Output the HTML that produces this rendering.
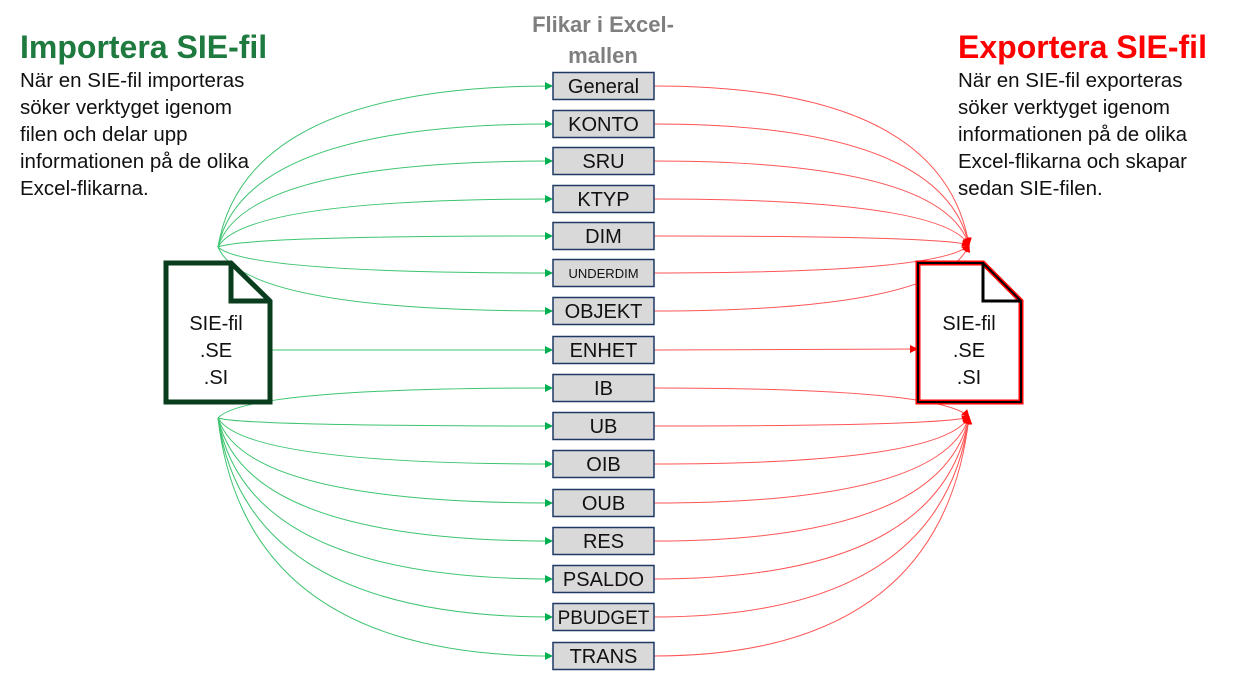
<!DOCTYPE html>
<html><head><meta charset="utf-8"><style>
body{margin:0;width:1240px;height:683px;background:#fff;overflow:hidden;font-family:"Liberation Sans",sans-serif;}
.t{position:absolute;font-weight:bold;font-size:32px;}
.p{position:absolute;font-size:20.5px;line-height:27px;color:#111;}
</style></head><body>
<div class="t" style="left:20px;top:29px;color:#1e7a3e;">Importera SIE-fil</div>
<div class="p" style="left:20px;top:67px;">När en SIE-fil importeras<br>söker verktyget igenom<br>filen och delar upp<br>informationen på de olika<br>Excel-flikarna.</div>
<div class="t" style="left:958px;top:29px;color:#f00;">Exportera SIE-fil</div>
<div class="p" style="left:958px;top:67px;">När en SIE-fil exporteras<br>söker verktyget igenom<br>informationen på de olika<br>Excel-flikarna och skapar<br>sedan SIE-filen.</div>
<div style="position:absolute;left:503px;top:9px;width:200px;text-align:center;font-weight:bold;font-size:22px;line-height:31px;color:#7f7f7f;">Flikar i Excel-<br>mallen</div>
<svg id="s" width="1240" height="683" style="position:absolute;left:0;top:0" xmlns="http://www.w3.org/2000/svg">
<defs>
<marker id="g" markerWidth="8" markerHeight="8" refX="7" refY="4" orient="auto" markerUnits="userSpaceOnUse"><path d="M0,0L8,4L0,8z" fill="#00b050"/></marker>
<marker id="r" markerWidth="8" markerHeight="8" refX="7" refY="4" orient="auto" markerUnits="userSpaceOnUse"><path d="M0,0L8,4L0,8z" fill="#f00"/></marker>
</defs>
<g id="lines" fill="none" stroke-width="1"></g>
<g font-size="20" text-anchor="middle" fill="#111">
<path d="M166,263H231L270,301V402H166Z" fill="#fff" stroke="#0a3d1e" stroke-width="5"/>
<path d="M231,263V301H270" fill="none" stroke="#0a3d1e" stroke-width="5"/>
<text x="216" y="330">SIE-fil</text><text x="216" y="357">.SE</text><text x="216" y="384">.SI</text>
<path d="M918,263H983L1021,301V402H918Z" fill="#fff" stroke="#f00" stroke-width="5"/>
<path d="M918,263H983L1021,301V402H918Z" fill="none" stroke="#000" stroke-width="2"/>
<path d="M983,263V301H1021" fill="none" stroke="#000" stroke-width="3"/>
<text x="969" y="330">SIE-fil</text><text x="969" y="357">.SE</text><text x="969" y="384">.SI</text>
</g>
<g id="boxes" font-size="20" text-anchor="middle" fill="#111">
<rect x="553" y="72.5" width="101" height="27" fill="#d9d9d9" stroke="#1f3864" stroke-width="1.5"/><text x="603.5" y="93">General</text>
<rect x="553" y="110.5" width="101" height="27" fill="#d9d9d9" stroke="#1f3864" stroke-width="1.5"/><text x="603.5" y="131">KONTO</text>
<rect x="553" y="147.5" width="101" height="27" fill="#d9d9d9" stroke="#1f3864" stroke-width="1.5"/><text x="603.5" y="168">SRU</text>
<rect x="553" y="185.5" width="101" height="27" fill="#d9d9d9" stroke="#1f3864" stroke-width="1.5"/><text x="603.5" y="206">KTYP</text>
<rect x="553" y="222.5" width="101" height="27" fill="#d9d9d9" stroke="#1f3864" stroke-width="1.5"/><text x="603.5" y="243">DIM</text>
<rect x="553" y="259.5" width="101" height="27" fill="#d9d9d9" stroke="#1f3864" stroke-width="1.5"/><text x="603.5" y="278" font-size="13">UNDERDIM</text>
<rect x="553" y="297.5" width="101" height="27" fill="#d9d9d9" stroke="#1f3864" stroke-width="1.5"/><text x="603.5" y="318">OBJEKT</text>
<rect x="553" y="336.5" width="101" height="27" fill="#d9d9d9" stroke="#1f3864" stroke-width="1.5"/><text x="603.5" y="357">ENHET</text>
<rect x="553" y="374.5" width="101" height="27" fill="#d9d9d9" stroke="#1f3864" stroke-width="1.5"/><text x="603.5" y="395">IB</text>
<rect x="553" y="412.5" width="101" height="27" fill="#d9d9d9" stroke="#1f3864" stroke-width="1.5"/><text x="603.5" y="433">UB</text>
<rect x="553" y="450.5" width="101" height="27" fill="#d9d9d9" stroke="#1f3864" stroke-width="1.5"/><text x="603.5" y="471">OIB</text>
<rect x="553" y="489.5" width="101" height="27" fill="#d9d9d9" stroke="#1f3864" stroke-width="1.5"/><text x="603.5" y="510">OUB</text>
<rect x="553" y="527.5" width="101" height="27" fill="#d9d9d9" stroke="#1f3864" stroke-width="1.5"/><text x="603.5" y="548">RES</text>
<rect x="553" y="565.5" width="101" height="27" fill="#d9d9d9" stroke="#1f3864" stroke-width="1.5"/><text x="603.5" y="586">PSALDO</text>
<rect x="553" y="603.5" width="101" height="27" fill="#d9d9d9" stroke="#1f3864" stroke-width="1.5"/><text x="603.5" y="624" font-size="19">PBUDGET</text>
<rect x="553" y="642.5" width="101" height="27" fill="#d9d9d9" stroke="#1f3864" stroke-width="1.5"/><text x="603.5" y="663">TRANS</text>
</g>
</svg>
<script>
var ys=[86,124,161,199,236,273,311,350,388,426,464,503,541,579,617,656];
var g=document.getElementById('lines'),h='';
ys.forEach(function(y,i){
 if(i==7){
  h+='<path d="M262,350L552,350" stroke="#3cc46f" marker-end="url(#g)"/>';
  h+='<path d="M654,350L917,349" stroke="#f55" marker-end="url(#r)"/>';
  return;}
 var sy=i<7?247:418;
 h+='<path d="M218,'+sy+'Q245,'+y+' 552,'+y+'" stroke="#3cc46f" marker-end="url(#g)"/>';
 h+='<path d="M654,'+y+'Q942,'+y+' 969,'+(i<7?245:417)+'" stroke="#f55" marker-end="url(#r)"/>';
});
g.innerHTML=h;
</script>
</body></html>
